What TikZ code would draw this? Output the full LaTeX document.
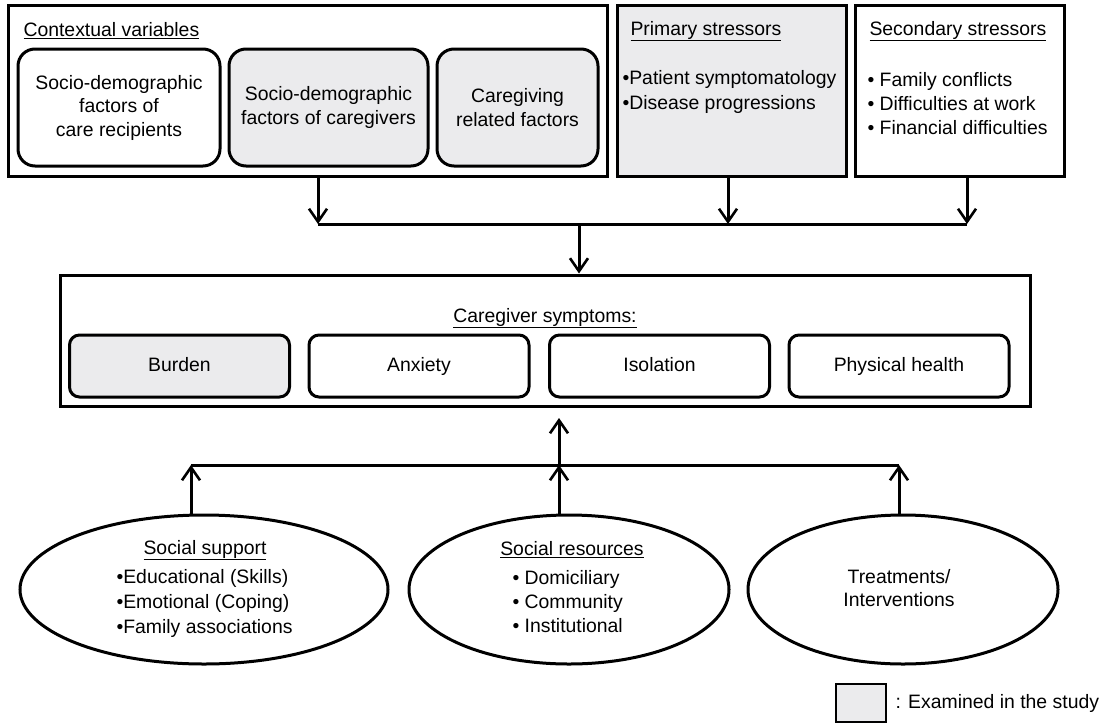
\documentclass[tikz,border=0pt]{standalone}
\usepackage{fontspec}
\setmainfont{Liberation Sans}
\usetikzlibrary{positioning,arrows.meta,shapes.geometric}
\definecolor{studygray}{RGB}{235,235,237}

\begin{document}
\begin{tikzpicture}[
    x=1pt, y=-1pt,
    font=\fontsize{19.4}{23.5}\selectfont,
    line width=3pt,
    groupbox/.style={draw, rectangle, inner sep=0pt, minimum height=171pt},
    factorbox/.style={
        draw,
        rounded corners=17pt,
        minimum height=117pt,
        align=center,
        inner sep=0pt
    },
    symbox/.style={draw, rounded corners=10pt, minimum width=220pt, minimum height=62pt,
        text height=14pt, text depth=4pt, inner sep=0pt},
    resource/.style={draw, ellipse, minimum height=149pt, inner sep=0pt},
    label/.style={inner sep=0pt},
    arr/.style={-{Straight Barb[length=13pt,width=18pt,line width=2.6pt]}}
]
\useasboundingbox (0,0) rectangle (1099,723);

% Contextual variables
\node[groupbox, minimum width=599pt] (ctx) at (307.5,90.5) {};
\node[label, anchor=west] (ctxtitle) at (22,31) {\underline{Contextual variables}};
\node[factorbox, minimum width=202pt] (recip) at (119,107.5) {Socio-demographic\\factors of\\care recipients};
\node[factorbox, minimum width=199pt, fill=studygray] (givers) at (328.5,107.5) {Socio-demographic\\factors of caregivers};
\node[factorbox, minimum width=161pt, fill=studygray] (related) at (517.5,107.5) {Caregiving\\related factors};

% Primary stressors
\node[groupbox, fill=studygray, minimum width=229pt] (prim) at (731.5,90.5) {};
\node[label, anchor=west] (primtitle) at (629,31) {\underline{Primary stressors}};
\node[label, anchor=west, align=left, font=\fontsize{19.4}{25}\selectfont] (primlist) at (621,92)
    {\textbullet Patient symptomatology\\\textbullet Disease progressions};

% Secondary stressors
\node[groupbox, minimum width=209pt] (sec) at (959.5,90.5) {};
\node[label, anchor=west] (sectitle) at (868,31) {\underline{Secondary stressors}};
\node[label, anchor=west, align=left, font=\fontsize{19.4}{24}\selectfont] (seclist) at (866,104)
    {\textbullet\ Family conflicts\\\textbullet\ Difficulties at work\\\textbullet\ Financial difficulties};

% Caregiver symptoms
\node[groupbox, minimum width=970pt, minimum height=131pt] (sympt) at (545,340.5) {};
\node[label] (symtitle) at (545,318) {\underline{Caregiver symptoms:}};
\node[symbox, fill=studygray] (burden) at (179.5,366) {Burden};
\node[symbox] (anxiety) at (419,366) {Anxiety};
\node[symbox] (isolation) at (659.5,366) {Isolation};
\node[symbox] (physical) at (899,366) {Physical health};

% Resources
\node[resource, minimum width=368pt] (support) at (204,589.5) {};
\node[label] (suptitle) at (205,550) {\underline{Social support}};
\node[label, anchor=west, align=left, font=\fontsize{19.4}{25}\selectfont] (suplist) at (115,603)
    {\textbullet Educational (Skills)\\\textbullet Emotional (Coping)\\\textbullet Family associations};
\node[resource, minimum width=320pt] (social) at (569,589.5) {};
\node[label] (soctitle) at (572,550) {\underline{Social resources}};
\node[label, anchor=west, align=left, font=\fontsize{19.4}{24}\selectfont] (soclist) at (511,602)
    {\textbullet\ Domiciliary\\\textbullet\ Community\\\textbullet\ Institutional};
\node[resource, minimum width=310pt] (treat) at (903,589.5) {};
\node[label, align=center] (treattext) at (899,588) {Treatments/\\Interventions};

% Junctions
\coordinate (jl) at (318,224);
\coordinate (jm) at (728,224);
\coordinate (jr) at (967,224);
\coordinate (jc) at (579,224);
\coordinate (bl) at (191,465);
\coordinate (bm) at (559,465);
\coordinate (br) at (899,465);

\draw[arr] (jl |- ctx.south) -- (jl);
\draw[arr] (jm |- prim.south) -- (jm);
\draw[arr] (jr |- sec.south) -- (jr);
\draw (jl) -- (jr);
\draw[arr] (jc) -- (jc |- sympt.north);

\draw[arr] (bl |- support.north) -- (bl);
\draw[arr] (bm |- social.north) -- (bm);
\draw[arr] (br |- treat.north) -- (br);
\draw (bl) -- (br);
\draw[arr] (bm) -- (bm |- 0,418);

% Legend
\node[draw, fill=studygray, line width=2.2pt, minimum width=50pt, minimum height=38pt, inner sep=0pt] (key) at (861,703) {};
\node[label, right=7pt of key] (keytext) {: Examined in the study};

\end{tikzpicture}
\end{document}
